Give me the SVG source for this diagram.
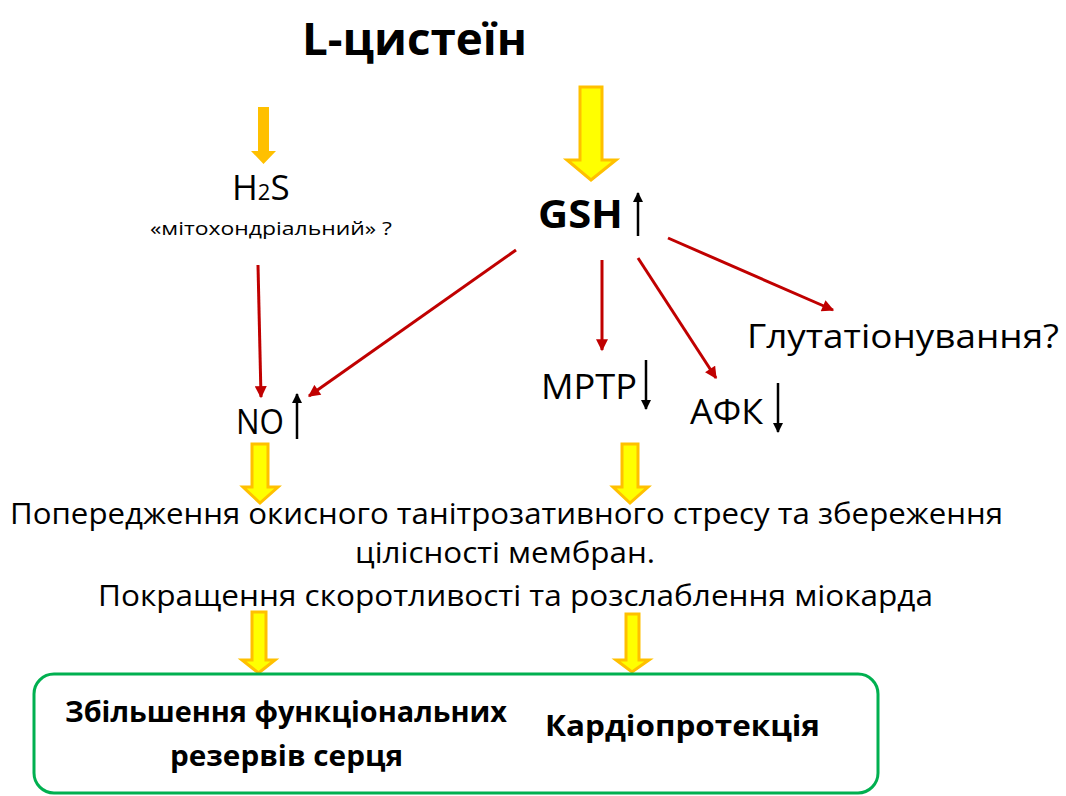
<svg xmlns="http://www.w3.org/2000/svg" width="1066" height="796" viewBox="0 0 1066 796">
<style>
text{font-family:"Open Sans","Liberation Sans",sans-serif;fill:#000}
.b{font-weight:bold}
.red{stroke:#C00000;stroke-width:3;fill:none;marker-end:url(#rh)}
.blk{stroke:#000;stroke-width:2.5;fill:none;marker-end:url(#bh)}
.ya{fill:#FFFF00;stroke:#FFC000;stroke-width:3;stroke-linejoin:miter}
.oa{fill:#FFC000}
</style>
<defs>
<marker id="rh" viewBox="0 0 10 10" refX="9" refY="5" markerWidth="4.3" markerHeight="4" orient="auto" markerUnits="strokeWidth">
<path d="M0,0 L10,5 L0,10 z" fill="#C00000"/>
</marker>
<marker id="bh" viewBox="0 0 10 10" refX="9" refY="5" markerWidth="4" markerHeight="4" orient="auto" markerUnits="strokeWidth">
<path d="M0,0 L10,5 L0,10 z" fill="#000"/>
</marker>
</defs>
<rect width="1066" height="796" fill="#fff"/>

<g id="title"><text class="b" x="302" y="55" font-size="45" textLength="225" lengthAdjust="spacingAndGlyphs">L-цистеїн</text></g>

<g id="connectors">
<polygon class="oa" points="258,107 269,107 269,151 276,151 263.5,164 251,151 258,151"/>
<polygon class="ya" points="580,87 602,87 602,160 616,160 591,180 567,160 580,160"/>
<line class="red" x1="258" y1="265" x2="261" y2="397"/>
<line class="red" x1="516" y1="250" x2="309" y2="396"/>
<line class="red" x1="602" y1="260" x2="602" y2="350"/>
<line class="red" x1="638" y1="258" x2="716" y2="378"/>
<line class="red" x1="668" y1="238" x2="833" y2="310"/>
<polygon class="ya" points="252,444 268,444 268,487 278,487 260,503 243,487 252,487"/>
<polygon class="ya" points="622,444 638,444 638,487 648,487 630,503 613,487 622,487"/>
<polygon class="ya" points="252,612 266,612 266,660 275,660 258.5,673 242,660 252,660"/>
<polygon class="ya" points="626,614 639,614 639,660 649,660 632,672 616,660 626,660"/>
</g>

<g id="h2s">
<text x="232" y="200" font-size="35">H<tspan font-size="22">2</tspan>S</text>
<text x="150" y="235" font-size="19" textLength="242" lengthAdjust="spacingAndGlyphs">«мітохондріальний» ?</text>
</g>

<g id="gsh">
<text class="b" x="538" y="228" font-size="40" textLength="85" lengthAdjust="spacingAndGlyphs">GSH</text>
<line class="blk" x1="638" y1="236" x2="638" y2="193"/>
</g>

<g id="no">
<text x="236" y="434" font-size="35" textLength="48" lengthAdjust="spacingAndGlyphs">NO</text>
<line class="blk" x1="297" y1="439" x2="297" y2="394"/>
</g>

<g id="mptp">
<text x="541" y="399" font-size="34" textLength="96" lengthAdjust="spacingAndGlyphs">MPTP</text>
<line class="blk" x1="646" y1="360" x2="646" y2="409"/>
</g>

<g id="afk">
<text x="690" y="424" font-size="34" textLength="73" lengthAdjust="spacingAndGlyphs">АФК</text>
<line class="blk" x1="778" y1="383" x2="778" y2="432"/>
</g>

<g id="glut">
<text x="747" y="348" font-size="33" textLength="312" lengthAdjust="spacingAndGlyphs">Глутатіонування?</text>
</g>

<g id="effects">
<text x="10" y="524" font-size="30" textLength="993" lengthAdjust="spacingAndGlyphs">Попередження окисного танітрозативного стресу та збереження</text>
<text x="355" y="563" font-size="30" textLength="300" lengthAdjust="spacingAndGlyphs">цілісності  мембран.</text>
<text x="98" y="606" font-size="30" textLength="835" lengthAdjust="spacingAndGlyphs">Покращення  скоротливості та розслаблення міокарда</text>
</g>

<g id="result">
<rect x="34" y="674" width="844" height="119" rx="20" ry="20" fill="none" stroke="#00B050" stroke-width="3"/>
<text class="b" x="65" y="722" font-size="28" textLength="442" lengthAdjust="spacingAndGlyphs">Збільшення функціональних</text>
<text class="b" x="170" y="766" font-size="28" textLength="233" lengthAdjust="spacingAndGlyphs">резервів серця</text>
<text class="b" x="545" y="736" font-size="28" textLength="275" lengthAdjust="spacingAndGlyphs">Кардіопротекція</text>
</g>
</svg>
